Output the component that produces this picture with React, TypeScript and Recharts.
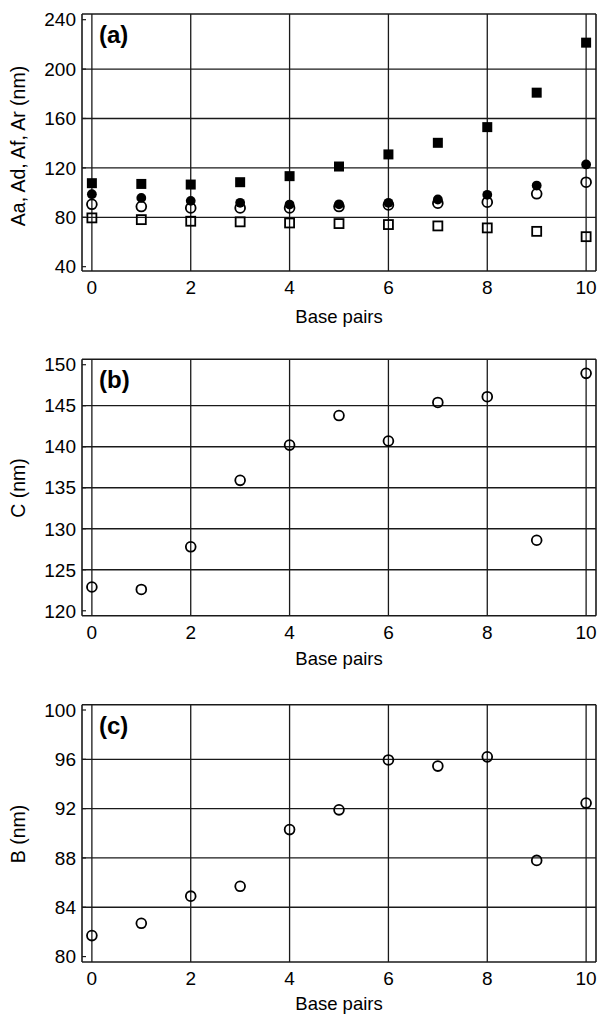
import React from 'react';
import {
  ScatterChart,
  Scatter,
  XAxis,
  YAxis,
  ReferenceLine,
  Label,
} from 'recharts';

// ---------- data ----------
const basePairs = [0, 1, 2, 3, 4, 5, 6, 7, 8, 9, 10];
const xTicks = [0, 2, 4, 6, 8, 10];
const xDomain: [number, number] = [-0.2, 10.2];

// panel (a)
const filledSquares = [107.6, 107, 106.5, 108.4, 113.3, 121.1, 130.9, 140.3, 153, 180.9, 221.4];
const filledCircles = [98.7, 95.7, 93.3, 91.7, 90.3, 90.5, 91.7, 94.4, 98.2, 105.7, 122.8];
const openCircles = [90.5, 88.7, 87.6, 87.6, 87.6, 88.7, 90, 91.4, 92.2, 99, 108.4];
const openSquares = [79.5, 78.1, 76.8, 76.3, 75.4, 74.9, 74.1, 73, 71.4, 68.6, 64.3];
const aTicks = [40, 80, 120, 160, 200, 240];
const aGrid = [80, 120, 160, 200];

// panel (b)
const cValues = [122.9, 122.6, 127.8, 135.9, 140.2, 143.8, 140.7, 145.4, 146.1, 128.6, 148.95];
const bTicks = [120, 125, 130, 135, 140, 145, 150];
const bGrid = [125, 130, 135, 140, 145];

// panel (c)
const bValues = [81.7, 82.7, 84.9, 85.7, 90.3, 91.9, 95.95, 95.45, 96.2, 87.8, 92.45];
const cTicks = [80, 84, 88, 92, 96, 100];
const cGrid = [84, 88, 92, 96];

const toPoints = (vals: number[]) => basePairs.map((x, i) => ({ x, y: vals[i] }));

// ---------- marker shapes ----------
const OpenCircle = (p: any) => (
  <circle cx={p.cx} cy={p.cy} r={4.9} fill="none" stroke="#000" strokeWidth={1.8} />
);
const FilledCircle = (p: any) => <circle cx={p.cx} cy={p.cy} r={4.9} fill="#000" />;
const FilledSquare = (p: any) => (
  <rect x={p.cx - 5} y={p.cy - 5} width={10} height={10} fill="#000" />
);
const OpenSquare = (p: any) => (
  <rect
    x={p.cx - 4.5}
    y={p.cy - 4.5}
    width={9}
    height={9}
    fill="none"
    stroke="#000"
    strokeWidth={1.8}
  />
);

const FONT = '"Liberation Sans", Arial, Helvetica, sans-serif';
const LINE = '#1a1a1a';

type SeriesDef = { vals: number[]; shape: any; name: string };

type PanelProps = {
  top: number;
  height: number;
  plotTop: number;
  plotBottom: number;
  yDomain: [number, number];
  yTicks: number[];
  yGrid: number[];
  yTitle: string;
  yTitleCy: number;
  tag: string;
  titleBaseline: number;
  series: SeriesDef[];
};

const W = 597;
const PLOT_LEFT = 82;
const PLOT_RIGHT = 596;

function Panel(props: PanelProps) {
  const {
    top,
    height,
    plotTop,
    plotBottom,
    yDomain,
    yTicks,
    yGrid,
    yTitle,
    yTitleCy,
    tag,
    titleBaseline,
    series,
  } = props;
  const xCenter = (PLOT_LEFT + PLOT_RIGHT) / 2;
  return (
    <div style={{ position: 'absolute', left: 0, top, width: W, height }}>
      <ScatterChart
        width={W}
        height={height}
        margin={{ top: plotTop, right: W - PLOT_RIGHT, left: 0, bottom: 0 }}
      >
        <XAxis
          type="number"
          dataKey="x"
          domain={xDomain}
          ticks={xTicks}
          allowDataOverflow
          height={height - plotBottom}
          tickLine={false}
          tickSize={0}
          tickMargin={10}
          axisLine={{ stroke: LINE, strokeWidth: 1.6 }}
          tick={{ fill: '#000', fontSize: 19, fontFamily: FONT }}
        >
          <Label
            content={() => (
              <text
                x={xCenter}
                y={titleBaseline}
                textAnchor="middle"
                fontSize={18.5}
                fontFamily={FONT}
                fill="#000"
              >
                Base pairs
              </text>
            )}
          />
        </XAxis>
        <YAxis
          type="number"
          dataKey="y"
          domain={yDomain}
          ticks={yTicks}
          allowDataOverflow
          width={PLOT_LEFT}
          tickSize={-4}
          tickMargin={10}
          tickLine={{ stroke: LINE, strokeWidth: 1.2 }}
          axisLine={{ stroke: LINE, strokeWidth: 1.6 }}
          tick={{ fill: '#000', fontSize: 19, fontFamily: FONT }}
        >
          <Label
            content={() => (
              <g>
                <text
                  x={18}
                  y={yTitleCy}
                  textAnchor="middle"
                  dominantBaseline="central"
                  transform={`rotate(-90, 18, ${yTitleCy})`}
                  fontSize={19.5}
                  fontFamily={FONT}
                  fill="#000"
                >
                  {yTitle}
                </text>
                <text
                  x={99}
                  y={plotTop + 29}
                  textAnchor="start"
                  fontSize={24}
                  fontWeight="bold"
                  fontFamily={FONT}
                  fill="#000"
                >
                  {tag}
                </text>
              </g>
            )}
          />
        </YAxis>
        {xTicks.map((v) => (
          <ReferenceLine key={'gx' + v} x={v} stroke={LINE} strokeWidth={1.3} />
        ))}
        {yGrid.map((v) => (
          <ReferenceLine key={'gy' + v} y={v} stroke={LINE} strokeWidth={1.3} />
        ))}
        <ReferenceLine x={xDomain[1]} stroke={LINE} strokeWidth={1.6} />
        <ReferenceLine y={yDomain[1]} stroke={LINE} strokeWidth={1.6} />
        {series.map((s) => (
          <Scatter
            key={s.name}
            name={s.name}
            data={toPoints(s.vals)}
            shape={s.shape}
            isAnimationActive={false}
          />
        ))}
      </ScatterChart>
    </div>
  );
}

export default function App() {
  return (
    <div
      style={{
        position: 'absolute',
        left: 0,
        top: 0,
        width: W,
        height: 1018,
        background: '#fff',
        fontFamily: FONT,
      }}
    >
      <Panel
        top={0}
        height={330}
        plotTop={14}
        plotBottom={271}
        yDomain={[36.5, 244.6]}
        yTicks={aTicks}
        yGrid={aGrid}
        yTitle="Aa, Ad, Af, Ar (nm)"
        yTitleCy={146}
        tag="(a)"
        titleBaseline={323}
        series={[
          { name: 'openSquares', vals: openSquares, shape: OpenSquare },
          { name: 'openCircles', vals: openCircles, shape: OpenCircle },
          { name: 'filledCircles', vals: filledCircles, shape: FilledCircle },
          { name: 'filledSquares', vals: filledSquares, shape: FilledSquare },
        ]}
      />
      <Panel
        top={330}
        height={340}
        plotTop={29.3}
        plotBottom={285.7}
        yDomain={[119.4, 150.66]}
        yTicks={bTicks}
        yGrid={bGrid}
        yTitle="C (nm)"
        yTitleCy={158}
        tag="(b)"
        titleBaseline={335}
        series={[{ name: 'C', vals: cValues, shape: OpenCircle }]}
      />
      <Panel
        top={670}
        height={348}
        plotTop={34.7}
        plotBottom={292}
        yDomain={[79.56, 100.43]}
        yTicks={cTicks}
        yGrid={cGrid}
        yTitle="B (nm)"
        yTitleCy={164}
        tag="(c)"
        titleBaseline={340}
        series={[{ name: 'B', vals: bValues, shape: OpenCircle }]}
      />
    </div>
  );
}
